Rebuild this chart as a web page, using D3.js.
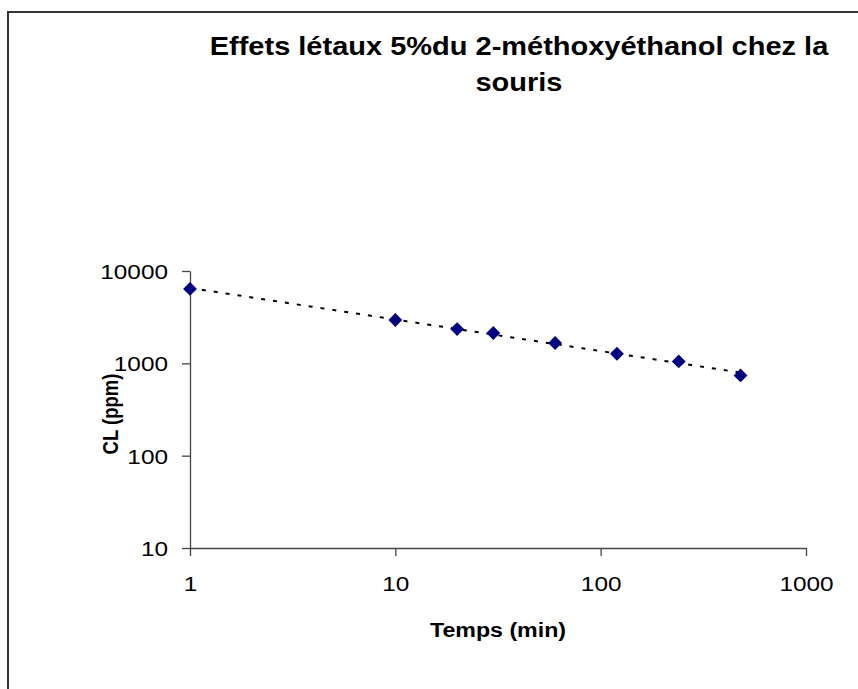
<!DOCTYPE html>
<html>
<head>
<meta charset="utf-8">
<script src="https://cdn.jsdelivr.net/npm/d3@7"></script>
<style>
  html, body { margin: 0; padding: 0; background: #fff; }
  svg { display: block; }
  text { font-family: Arial, "Liberation Sans", sans-serif; fill: #000; }
</style>
</head>
<body>
<svg id="chart" width="858" height="689"></svg>
<script>
// ---- data ----
const times = [1, 10, 20, 30, 60, 120, 240, 480];          // Temps (min)
const concentrations = [6400, 2950, 2350, 2130, 1660, 1270, 1050, 740]; // CL (ppm)
const xTicks = [1, 10, 100, 1000];
const yTicks = [10, 100, 1000, 10000];
const titleLines = ["Effets létaux 5%du 2-méthoxyéthanol chez la", "souris"];
const xLabel = "Temps (min)";
const yLabel = "CL (ppm)";

const SX = 1.16; // horizontal stretch of the original rendering

const svg = d3.select("#chart");

// outer frame (extends past the right/bottom edge of the picture)
svg.append("rect")
  .attr("x", 8).attr("y", 12)
  .attr("width", 900).attr("height", 700)
  .attr("fill", "none").attr("stroke", "#333").attr("stroke-width", 2);

const x = d3.scaleLog().domain([1, 1000]).range([190, 806]);
const y = d3.scaleLog().domain([10, 10000]).range([548, 271]);

// axes
const fmt = d => String(d);
const xAxis = svg.append("g").attr("transform", `translate(0,${y(10)})`)
  .call(d3.axisBottom(x).tickValues(xTicks).tickFormat(fmt).tickSize(8).tickSizeOuter(0));
const yAxis = svg.append("g").attr("transform", `translate(${x(1)},0)`)
  .call(d3.axisLeft(y).tickValues(yTicks).tickFormat(fmt).tickSize(8).tickSizeOuter(0));

[xAxis, yAxis].forEach(g => {
  g.select(".domain").attr("stroke", "#444").attr("stroke-width", 1.3);
  g.selectAll(".tick line").attr("stroke", "#444").attr("stroke-width", 1.3);
  g.selectAll(".tick text").attr("font-size", 21).attr("font-family", "Arial, 'Liberation Sans', sans-serif").attr("fill", "#000");
});
xAxis.selectAll(".tick text").attr("dy", 0).attr("y", 0)
  .attr("transform", `translate(0,43) scale(${SX},1)`);
yAxis.selectAll(".tick text").attr("x", 0).attr("dy", "0.36em")
  .attr("transform", `translate(-22,0) scale(${SX},1)`);

// trendline (power fit via log-log least squares)
const lx = times.map(Math.log), ly = concentrations.map(Math.log);
const mx = d3.mean(lx), my = d3.mean(ly);
const b = d3.sum(lx.map((v, i) => (v - mx) * (ly[i] - my))) / d3.sum(lx.map(v => (v - mx) ** 2));
const a = Math.exp(my - b * mx);
const trendX = [times[0], times[times.length - 1]];
svg.append("path")
  .attr("d", d3.line().x(d => x(d)).y(d => y(a * Math.pow(d, b)))(trendX))
  .attr("fill", "none").attr("stroke", "#000").attr("stroke-width", 2)
  .attr("stroke-dasharray", "4,8");

// markers (diamonds)
svg.append("g").selectAll("path")
  .data(times.map((t, i) => [t, concentrations[i]]))
  .join("path")
  .attr("d", d3.symbol(d3.symbolSquare, 96)())
  .attr("transform", d => `translate(${x(d[0])},${y(d[1])}) rotate(45)`)
  .attr("fill", "#000080");

// title
const title = svg.append("g").attr("transform", `translate(519,0) scale(${SX},1)`);
title.append("text")
  .attr("text-anchor", "middle").attr("font-weight", "bold").attr("font-size", 25)
  .selectAll("tspan").data(titleLines).join("tspan")
  .attr("x", 0).attr("y", (d, i) => 55 + i * 36).text(d => d);

// axis titles
svg.append("text")
  .attr("transform", `translate(498,637) scale(${SX},1)`)
  .attr("text-anchor", "middle").attr("font-weight", "bold").attr("font-size", 20)
  .text(xLabel);
svg.append("text")
  .attr("transform", `translate(118,414) scale(${SX},1) rotate(-90)`)
  .attr("text-anchor", "middle").attr("font-weight", "bold").attr("font-size", 18.5)
  .text(yLabel);
</script>
</body>
</html>
